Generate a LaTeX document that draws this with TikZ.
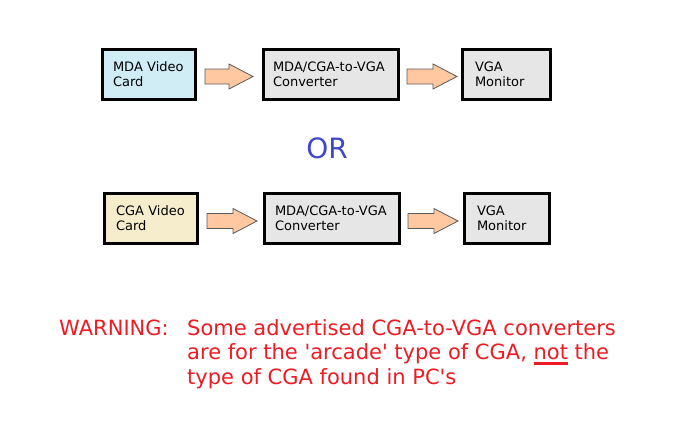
\documentclass[tikz,border=0pt]{standalone}
\usepackage{fontspec}
\setmainfont{DejaVu Sans}
\usetikzlibrary{calc}
\definecolor{mdablue}{RGB}{208,236,245}
\definecolor{cgayellow}{RGB}{245,237,204}
\definecolor{boxgray}{RGB}{230,230,230}
\definecolor{arrowfill}{RGB}{255,200,160}
\definecolor{arrowline}{RGB}{90,90,90}
\definecolor{orblue}{RGB}{63,72,204}
\definecolor{warnred}{RGB}{237,28,36}
\newcommand\thickul[1]{\setbox0\hbox{#1}\rlap{\rule[-5pt]{\wd0}{2.5pt}}\box0\relax}
\newcommand\blockarrow[2]{\path[barrow] let \p1=#1, \p2=#2 in
  (\x1,\y1+7.5pt) -- (\x2-24pt,\y1+7.5pt) -- (\x2-24pt,\y1+12.5pt) -- (\x2,\y1)
  -- (\x2-24pt,\y1-12.5pt) -- (\x2-24pt,\y1-7.5pt) -- (\x1,\y1-7.5pt) -- cycle;}
\tikzset{
  box/.style={draw=black, line width=3pt, minimum height=50pt, align=left,
    font=\fontsize{13}{15}\selectfont, inner ysep=0pt},
  barrow/.style={fill=arrowfill, draw=arrowline, line width=0.8pt},
  warntext/.style={text=warnred, font=\fontsize{21}{24.5}\selectfont, inner sep=0pt},
}
\begin{document}
\begin{tikzpicture}[x=1pt,y=-1pt]
\useasboundingbox (0,0) rectangle (693,442);
% top row
\node[box, fill=mdablue, minimum width=93pt, inner xsep=10.5pt, text width=72pt] (A1) at (149,74.5) {MDA Video\\Card};
\node[box, fill=boxgray, minimum width=135pt, inner xsep=9.5pt, text width=116pt] (B1) at (331,74.5) {MDA/CGA-to-VGA\\Converter};
\node[box, fill=boxgray, minimum width=88pt, inner xsep=12.5pt, text width=63pt] (C1) at (506.5,74.5) {VGA\\Monitor};
\blockarrow{($(A1.east)+(8,2)$)}{($(B1.west)+(-9,2)$)}
\blockarrow{($(B1.east)+(7,2)$)}{($(C1.west)+(-4,2)$)}
% OR
\node[text=orblue, font=\fontsize{28}{30}\selectfont, anchor=base, inner sep=0pt] (or) at (327,158) {OR};
% bottom row
\node[box, fill=cgayellow, minimum width=93pt, inner xsep=11.5pt, text width=70pt] (A2) at (151,218.5) {CGA Video\\Card};
\node[box, fill=boxgray, minimum width=135pt, inner xsep=10.5pt, text width=114pt] (B2) at (332,218.5) {MDA/CGA-to-VGA\\Converter};
\node[box, fill=boxgray, minimum width=85pt, inner xsep=12.5pt, text width=60pt] (C2) at (507,218.5) {VGA\\Monitor};
\blockarrow{($(A2.east)+(8,2.5)$)}{($(B2.west)+(-6,2.5)$)}
\blockarrow{($(B2.east)+(7,2.5)$)}{($(C2.west)+(-5,2.5)$)}
% warning
\node[warntext, anchor=base west] (warn) at (59,335) {WARNING:};
\node[warntext, anchor=base west, align=left] (msg) at (187,384)
  {Some advertised CGA-to-VGA converters\\are for the \textquotesingle arcade\textquotesingle\ type of CGA, \thickul{not} the\\type of CGA found in PC\textquotesingle s};
\end{tikzpicture}
\end{document}
